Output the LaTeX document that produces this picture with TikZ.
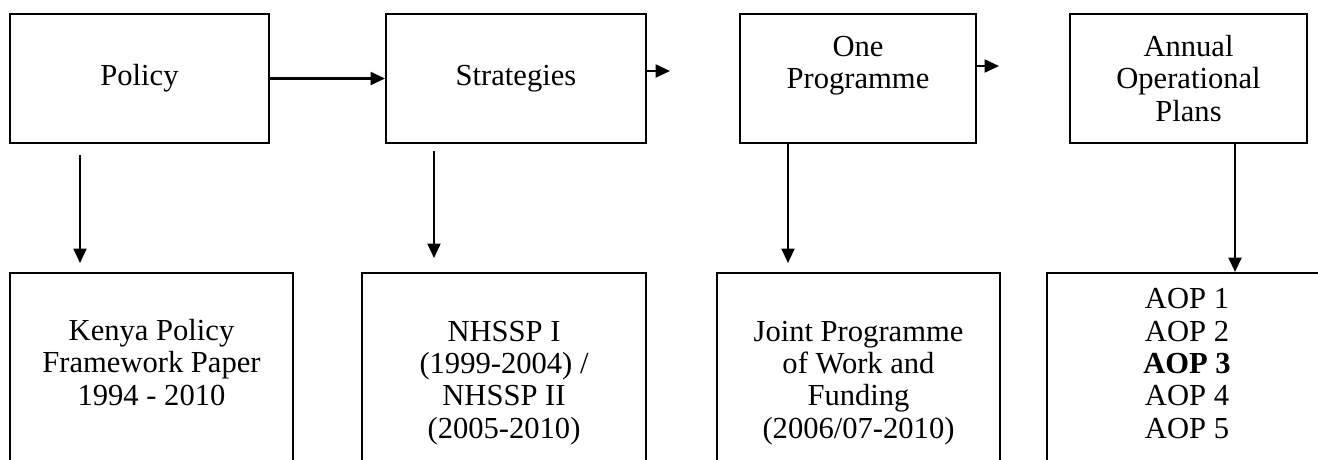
\documentclass[tikz,border=0pt]{standalone}
\usepackage{fontspec}
\setmainfont{Liberation Serif}
\usetikzlibrary{arrows.meta,positioning,calc}

\begin{document}
\begin{tikzpicture}[x=0.2mm, y=-0.2mm,
  box/.style={draw, rectangle, line width=1.1pt, minimum height=2.58cm, align=center, font={\fontsize{17.4}{18.4}\selectfont}},
  lowbox/.style={draw, rectangle, line width=1.1pt, minimum height=4.8cm, anchor=north},
  boxtext/.style={align=center, anchor=base, inner sep=0pt, font={\fontsize{17.4}{18.4}\selectfont}},
  arr/.style={line width=1.3pt, -{Triangle[length=0.29cm, width=0.26cm]}}]

\useasboundingbox (0,0) rectangle (1318,459);
\clip (0,0) rectangle (1318,459);

% Top row
\node[box, minimum width=5.18cm] (policy) at (139.5,78.5) {Policy};
\node[box, minimum width=5.2cm] (strategies) at (516,78.5) {Strategies};
\node[box, minimum width=4.72cm] (oneprog) at (858,78.5) {One\\Programme\\\mbox{}};
\node[box, minimum width=4.74cm] (annual) at (1188.5,78.5) {Annual\\Operational\\Plans};

% Bottom row (open below the page edge)
\node[lowbox, minimum width=5.66cm] (kenyabox) at (151.5,272) {};
\node[lowbox, minimum width=5.68cm] (nhsspbox) at (504,272) {};
\node[lowbox, minimum width=5.66cm] (jointbox) at (858.5,272) {};
\node[lowbox, minimum width=5.6cm] (aopbox) at (1187,272) {};

% Texts of the bottom row (placed by their last line)
\node[boxtext] (kenya) at (151.5,405) {Kenya Policy\\Framework Paper\\1994 - 2010};
\node[boxtext] (nhssp) at (504,438) {NHSSP I\\(1999-2004) /\\NHSSP II\\(2005-2010)};
\node[boxtext] (joint) at (858.5,438) {Joint Programme\\of Work and\\Funding\\(2006/07-2010)};
\node[boxtext] (aop) at (1187,438) {AOP 1\\AOP 2\\\textbf{AOP 3}\\AOP 4\\AOP 5};

% Across
\draw[arr] (policy) -- (strategies);
\coordinate (stratout) at (670,71);
\draw[arr] (strategies.east |- stratout) -- (stratout);
\coordinate (progout) at (999,66);
\draw[arr] (oneprog.east |- progout) -- (progout);

% Down
\coordinate (poldown) at (80,155);
\draw[arr, shorten >=0.18cm] (poldown) -- (poldown |- kenyabox.north);
\coordinate (stratdown) at (434,151);
\draw[arr, shorten >=0.28cm] (stratdown) -- (stratdown |- nhsspbox.north);
\coordinate (progdown) at (788,0);
\draw[arr, shorten >=0.18cm] (oneprog.south -| progdown) -- (progdown |- jointbox.north);
\coordinate (annualdown) at (1235,0);
\draw[arr] (annual.south -| annualdown) -- (annualdown |- aopbox.north);

\end{tikzpicture}
\end{document}
